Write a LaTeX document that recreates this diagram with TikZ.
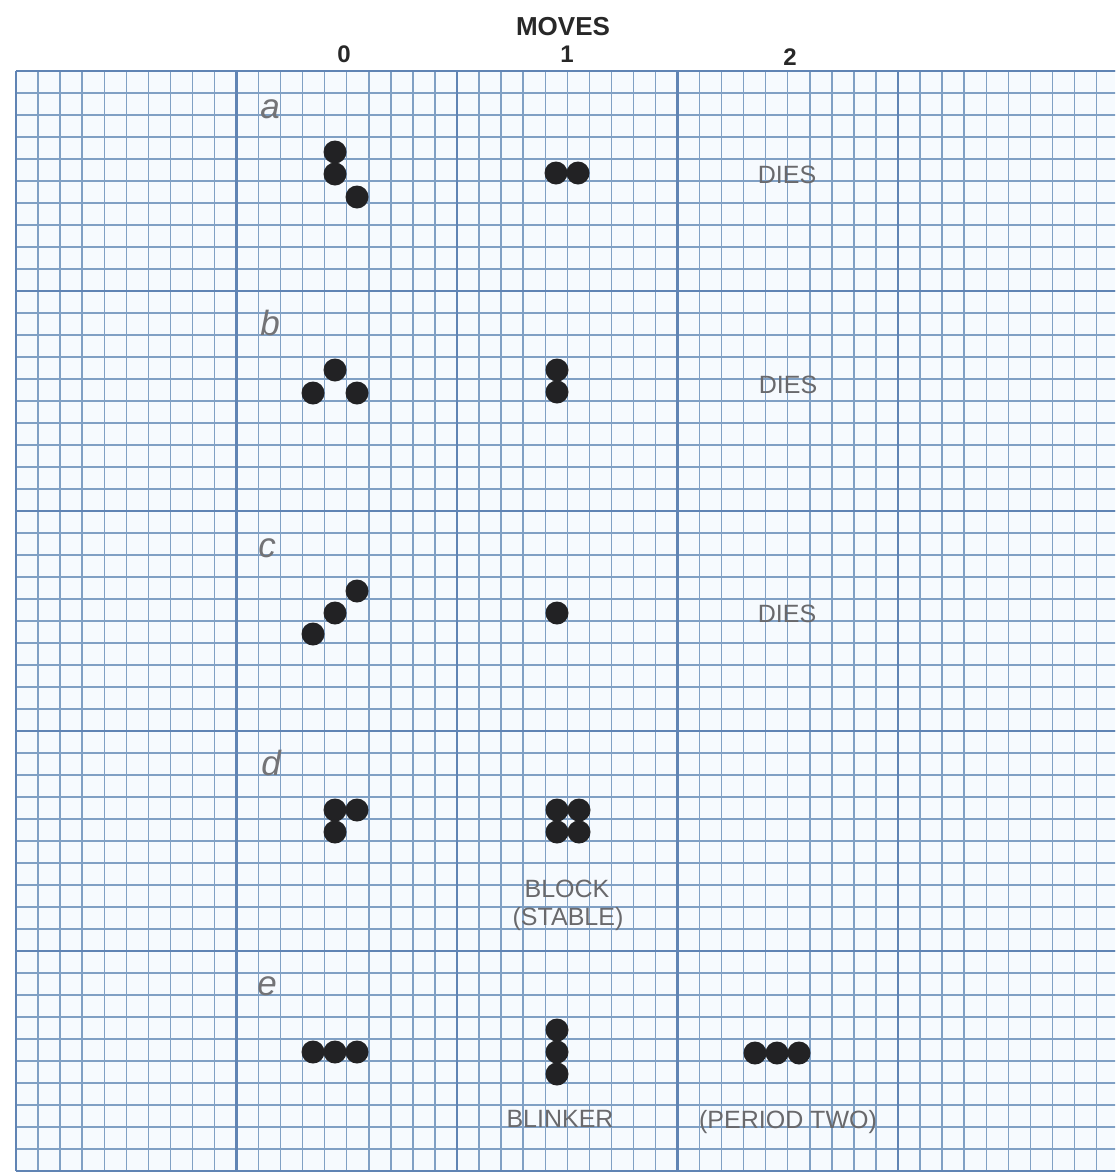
\documentclass[tikz,border=0pt]{standalone}
\usepackage{fontspec}
\setmainfont{Liberation Sans}
\definecolor{gridblue}{RGB}{128,160,196}
\definecolor{majorblue}{RGB}{96,132,180}
\definecolor{paper}{RGB}{246,250,254}
\definecolor{dotblack}{RGB}{34,34,36}
\definecolor{notegray}{RGB}{105,105,108}
\definecolor{headgray}{RGB}{40,40,40}
\definecolor{labelgray}{RGB}{115,115,118}
\begin{document}
\begin{tikzpicture}[x=0.5pt,y=-0.5pt,
  minorline/.style={draw=gridblue, line width=0.7pt},
  majorline/.style={draw=majorblue, line width=1.3pt},
  cell/.style={circle, fill=dotblack, inner sep=0pt, minimum size=11.5pt},
  note/.style={text=notegray, font=\fontsize{12.5}{14}\selectfont, inner sep=0pt, anchor=base},
  head/.style={text=headgray, font=\bfseries\fontsize{12}{14}\selectfont, inner sep=0pt, anchor=base},
  rowlabel/.style={text=labelgray, font=\itshape\fontsize{17.5}{20}\selectfont, inner sep=0pt, anchor=base}]
\useasboundingbox (0,0) rectangle (1115,1173);
\fill[white] (0,0) rectangle (1115,1173);
\fill[paper] (16,71) rectangle (1115,1171);
\begin{scope}
\clip (0,0) rectangle (1115,1173);
\foreach \k in {0,...,50} {
  \pgfmathsetmacro\xx{16+22.05*\k}
  \pgfmathsetmacro\yy{71+22*\k}
  \draw[minorline] (\xx,71) -- (\xx,1171);
  \draw[minorline] (16,\yy) -- (1120,\yy);
}
\foreach \k in {0,10,...,50} {
  \pgfmathsetmacro\xx{16+22.05*\k}
  \pgfmathsetmacro\yy{71+22*\k}
  \draw[majorline] (\xx,71) -- (\xx,1171);
  \draw[majorline] (16,\yy) -- (1120,\yy);
}
\end{scope}

% headers
\node[head, font=\bfseries\fontsize{13}{15}\selectfont] (moves) at (563,35) {MOVES};
\node[head] (m0) at (344,62) {0};
\node[head] (m1) at (567,62) {1};
\node[head] (m2) at (790,65) {2};

% row labels
\node[rowlabel] (la) at (270,118) {a};
\node[rowlabel] (lb) at (270,335) {b};
\node[rowlabel] (lc) at (267,557) {c};
\node[rowlabel] (ld) at (271,775) {d};
\node[rowlabel] (le) at (267,995) {e};

% row a
\node[cell] (a01) at (335,152) {};
\node[cell] (a02) at (335,174) {};
\node[cell] (a03) at (357,197) {};
\node[cell] (a11) at (556,173) {};
\node[cell] (a12) at (578,173) {};
\node[note] (adies) at (787,183) {DIES};

% row b
\node[cell] (b01) at (335,370) {};
\node[cell] (b02) at (313,393) {};
\node[cell] (b03) at (357,393) {};
\node[cell] (b11) at (557,370) {};
\node[cell] (b12) at (557,392) {};
\node[note] (bdies) at (788,393) {DIES};

% row c
\node[cell] (c01) at (357,591) {};
\node[cell] (c02) at (335,613) {};
\node[cell] (c03) at (313,634) {};
\node[cell] (c11) at (557,613) {};
\node[note] (cdies) at (787,622) {DIES};

% row d
\node[cell] (d01) at (335,810) {};
\node[cell] (d02) at (357,810) {};
\node[cell] (d03) at (335,832) {};
\node[cell] (d11) at (557,810) {};
\node[cell] (d12) at (579,810) {};
\node[cell] (d13) at (557,832) {};
\node[cell] (d14) at (579,832) {};
\node[note] (dblock) at (567,897) {BLOCK};
\node[note] (dstable) at (568,925) {(STABLE)};

% row e
\node[cell] (e01) at (313,1052) {};
\node[cell] (e02) at (335,1052) {};
\node[cell] (e03) at (357,1052) {};
\node[cell] (e11) at (557,1030) {};
\node[cell] (e12) at (557,1052) {};
\node[cell] (e13) at (557,1074) {};
\node[cell] (e21) at (755,1053) {};
\node[cell] (e22) at (777,1053) {};
\node[cell] (e23) at (799,1053) {};
\node[note] (eblinker) at (560,1127) {BLINKER};
\node[note] (eperiod) at (788,1128) {(PERIOD TWO)};
\end{tikzpicture}
\end{document}
